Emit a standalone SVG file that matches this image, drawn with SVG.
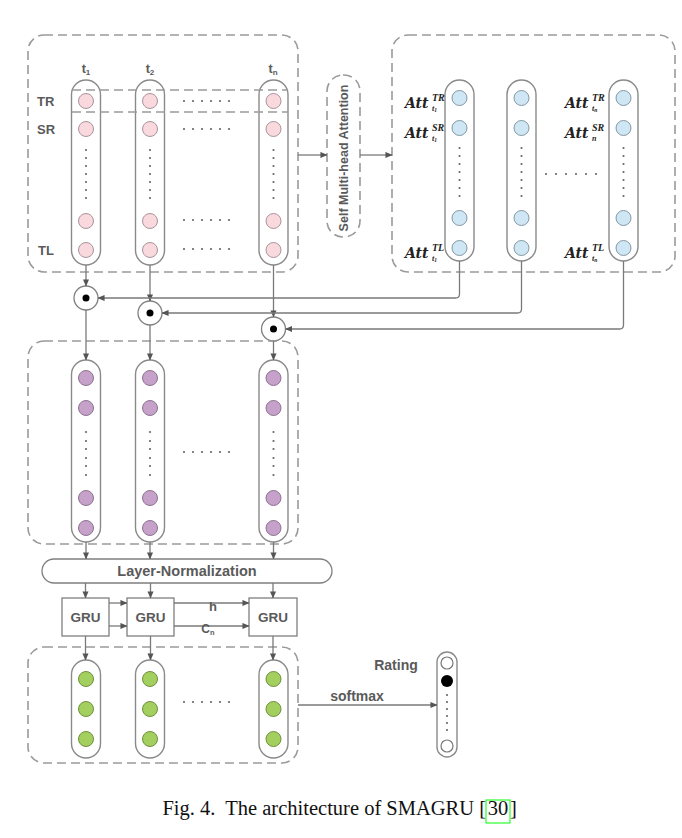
<svg xmlns="http://www.w3.org/2000/svg" width="682" height="838" viewBox="0 0 682 838">
<defs>
<marker id="ah" viewBox="0 0 8 8" refX="7.5" refY="4" markerWidth="7" markerHeight="7" orient="auto" markerUnits="userSpaceOnUse"><path d="M0,0.5 L8,4 L0,7.5 z" fill="#555"/></marker>
</defs>
<style>
.panel{fill:none;stroke:#9a9a9a;stroke-width:1.6;stroke-dasharray:9 5}
.pill{fill:#fff;stroke:#8a8a8a;stroke-width:1.4}
.pk{fill:#f9d8de;stroke:#a8959a;stroke-width:1}
.bl{fill:#cfe7f5;stroke:#8397a3;stroke-width:1}
.pu{fill:#c6a1c9;stroke:#8f7192;stroke-width:1}
.gr{fill:#a3cf5e;stroke:#6f8f3e;stroke-width:1}
.dot{fill:#666}
.lbl{font-family:"Liberation Sans",Arial,sans-serif;font-weight:bold;fill:#5a5a5a}
.att{font-family:"DejaVu Serif",serif;font-weight:bold;font-style:italic;fill:#222}
.sup{font-family:"Liberation Serif","Times New Roman",serif;font-weight:bold;font-style:italic;fill:#222}
.con{fill:none;stroke:#7a7a7a;stroke-width:1.3}
.arr{marker-end:url(#ah)}
.mul{fill:#fff;stroke:#808080;stroke-width:1.3}
.box{fill:#fff;stroke:#7f7f7f;stroke-width:1.3}
.cap{font-family:"Liberation Serif","Times New Roman",serif;font-size:20.5px;fill:#111}
</style>
<rect width="682" height="838" fill="#fff"/>

<g id="input-panel">
<rect class="panel" x="28" y="35" width="270" height="237" rx="16"/>
<text class="lbl" x="86" y="73" font-size="12.5" text-anchor="middle">t<tspan font-size="8" dy="2">1</tspan></text>
<text class="lbl" x="150" y="73" font-size="12.5" text-anchor="middle">t<tspan font-size="8" dy="2">2</tspan></text>
<text class="lbl" x="273" y="73" font-size="12.5" text-anchor="middle">t<tspan font-size="8" dy="2">n</tspan></text>
<text class="lbl" x="37" y="106" font-size="13">TR</text>
<text class="lbl" x="37" y="134" font-size="13">SR</text>
<text class="lbl" x="38" y="255" font-size="13">TL</text>
<g id="in-col1">
<rect class="pill" x="71.5" y="80" width="29" height="185" rx="14.5"/>
<circle class="pk" cx="86" cy="101" r="7.5"/><circle class="pk" cx="86" cy="129" r="7.5"/>
<circle class="pk" cx="86" cy="221" r="7.5"/><circle class="pk" cx="86" cy="250" r="7.5"/>
<g class="dot"><circle cx="86" cy="150" r="1.1"/><circle cx="86" cy="158" r="1.1"/><circle cx="86" cy="166" r="1.1"/><circle cx="86" cy="174" r="1.1"/><circle cx="86" cy="182" r="1.1"/><circle cx="86" cy="190" r="1.1"/><circle cx="86" cy="198" r="1.1"/></g>
</g>
<g id="in-col2">
<rect class="pill" x="135.5" y="80" width="29" height="185" rx="14.5"/>
<circle class="pk" cx="150" cy="101" r="7.5"/><circle class="pk" cx="150" cy="129" r="7.5"/>
<circle class="pk" cx="150" cy="221" r="7.5"/><circle class="pk" cx="150" cy="250" r="7.5"/>
<g class="dot"><circle cx="150" cy="150" r="1.1"/><circle cx="150" cy="158" r="1.1"/><circle cx="150" cy="166" r="1.1"/><circle cx="150" cy="174" r="1.1"/><circle cx="150" cy="182" r="1.1"/><circle cx="150" cy="190" r="1.1"/><circle cx="150" cy="198" r="1.1"/></g>
</g>
<g id="in-coln">
<rect class="pill" x="259" y="80" width="29" height="185" rx="14.5"/>
<circle class="pk" cx="273.5" cy="101" r="7.5"/><circle class="pk" cx="273.5" cy="129" r="7.5"/>
<circle class="pk" cx="273.5" cy="221" r="7.5"/><circle class="pk" cx="273.5" cy="250" r="7.5"/>
<g class="dot"><circle cx="273.5" cy="150" r="1.1"/><circle cx="273.5" cy="158" r="1.1"/><circle cx="273.5" cy="166" r="1.1"/><circle cx="273.5" cy="174" r="1.1"/><circle cx="273.5" cy="182" r="1.1"/><circle cx="273.5" cy="190" r="1.1"/><circle cx="273.5" cy="198" r="1.1"/></g>
</g>
<line class="panel" x1="72" y1="90" x2="288" y2="90"/>
<line class="panel" x1="72" y1="112" x2="288" y2="112"/>
<g class="dot">
<circle cx="184" cy="101" r="1.1"/><circle cx="193" cy="101" r="1.1"/><circle cx="202" cy="101" r="1.1"/><circle cx="211" cy="101" r="1.1"/><circle cx="220" cy="101" r="1.1"/><circle cx="229" cy="101" r="1.1"/>
<circle cx="184" cy="129" r="1.1"/><circle cx="193" cy="129" r="1.1"/><circle cx="202" cy="129" r="1.1"/><circle cx="211" cy="129" r="1.1"/><circle cx="220" cy="129" r="1.1"/><circle cx="229" cy="129" r="1.1"/>
<circle cx="184" cy="220" r="1.1"/><circle cx="193" cy="220" r="1.1"/><circle cx="202" cy="220" r="1.1"/><circle cx="211" cy="220" r="1.1"/><circle cx="220" cy="220" r="1.1"/><circle cx="229" cy="220" r="1.1"/>
<circle cx="184" cy="249" r="1.1"/><circle cx="193" cy="249" r="1.1"/><circle cx="202" cy="249" r="1.1"/><circle cx="211" cy="249" r="1.1"/><circle cx="220" cy="249" r="1.1"/><circle cx="229" cy="249" r="1.1"/>
</g>
</g>

<g id="attention">
<rect class="panel" x="327" y="75" width="33" height="162" rx="16"/>
<text class="lbl" font-size="12.5" text-anchor="middle" transform="translate(348,158) rotate(-90)">Self Multi-head Attention</text>
</g>

<g id="att-panel">
<rect class="panel" x="392" y="35" width="283" height="237" rx="16"/>
<g id="att-col1">
<rect class="pill" x="445" y="80" width="29" height="181" rx="14.5"/>
<circle class="bl" cx="459.5" cy="98" r="7.5"/><circle class="bl" cx="459.5" cy="128" r="7.5"/>
<circle class="bl" cx="459.5" cy="218" r="7.5"/><circle class="bl" cx="459.5" cy="248" r="7.5"/>
<g class="dot"><circle cx="459.5" cy="148" r="1.1"/><circle cx="459.5" cy="156" r="1.1"/><circle cx="459.5" cy="164" r="1.1"/><circle cx="459.5" cy="172" r="1.1"/><circle cx="459.5" cy="180" r="1.1"/><circle cx="459.5" cy="188" r="1.1"/><circle cx="459.5" cy="196" r="1.1"/></g>
</g>
<g id="att-col2">
<rect class="pill" x="507" y="80" width="29" height="181" rx="14.5"/>
<circle class="bl" cx="521.5" cy="98" r="7.5"/><circle class="bl" cx="521.5" cy="128" r="7.5"/>
<circle class="bl" cx="521.5" cy="218" r="7.5"/><circle class="bl" cx="521.5" cy="248" r="7.5"/>
<g class="dot"><circle cx="521.5" cy="148" r="1.1"/><circle cx="521.5" cy="156" r="1.1"/><circle cx="521.5" cy="164" r="1.1"/><circle cx="521.5" cy="172" r="1.1"/><circle cx="521.5" cy="180" r="1.1"/><circle cx="521.5" cy="188" r="1.1"/><circle cx="521.5" cy="196" r="1.1"/></g>
</g>
<g id="att-coln">
<rect class="pill" x="609" y="80" width="29" height="181" rx="14.5"/>
<circle class="bl" cx="623.5" cy="98" r="7.5"/><circle class="bl" cx="623.5" cy="128" r="7.5"/>
<circle class="bl" cx="623.5" cy="218" r="7.5"/><circle class="bl" cx="623.5" cy="248" r="7.5"/>
<g class="dot"><circle cx="623.5" cy="148" r="1.1"/><circle cx="623.5" cy="156" r="1.1"/><circle cx="623.5" cy="164" r="1.1"/><circle cx="623.5" cy="172" r="1.1"/><circle cx="623.5" cy="180" r="1.1"/><circle cx="623.5" cy="188" r="1.1"/><circle cx="623.5" cy="196" r="1.1"/></g>
</g>
<g class="dot"><circle cx="546" cy="174" r="1.1"/><circle cx="556" cy="174" r="1.1"/><circle cx="566" cy="174" r="1.1"/><circle cx="576" cy="174" r="1.1"/><circle cx="586" cy="174" r="1.1"/><circle cx="596" cy="174" r="1.1"/></g>
<g id="att-labels">
<text class="att" x="405" y="108" font-size="14">Att</text><text class="sup" x="432" y="101" font-size="10">TR</text><text class="sup" x="432" y="111" font-size="8">t<tspan font-size="5.5" dy="1">1</tspan></text>
<text class="att" x="405" y="138" font-size="14">Att</text><text class="sup" x="432" y="131" font-size="10">SR</text><text class="sup" x="432" y="141" font-size="8">t<tspan font-size="5.5" dy="1">1</tspan></text>
<text class="att" x="405" y="258" font-size="14">Att</text><text class="sup" x="432" y="251" font-size="10">TL</text><text class="sup" x="432" y="261" font-size="8">t<tspan font-size="5.5" dy="1">1</tspan></text>
<text class="att" x="565" y="108" font-size="14">Att</text><text class="sup" x="592" y="101" font-size="10">TR</text><text class="sup" x="592" y="111" font-size="8">t<tspan font-size="5.5" dy="1">n</tspan></text>
<text class="att" x="565" y="138" font-size="14">Att</text><text class="sup" x="592" y="131" font-size="10">SR</text><text class="sup" x="592" y="141" font-size="8">n</text>
<text class="att" x="565" y="258" font-size="14">Att</text><text class="sup" x="592" y="251" font-size="10">TL</text><text class="sup" x="592" y="261" font-size="8">t<tspan font-size="5.5" dy="1">n</tspan></text>
</g>
</g>

<g id="mul1"><circle class="mul" cx="86" cy="298" r="12"/><circle cx="86" cy="298" r="3.5" fill="#000"/></g>
<g id="mul2"><circle class="mul" cx="150" cy="313" r="12"/><circle cx="150" cy="313" r="3.5" fill="#000"/></g>
<g id="mul3"><circle class="mul" cx="273.5" cy="329" r="12"/><circle cx="273.5" cy="329" r="3.5" fill="#000"/></g>

<g id="hidden-panel">
<rect class="panel" x="28" y="341" width="270" height="203" rx="16"/>
<g id="h-col1">
<rect class="pill" x="71.5" y="360" width="29" height="182" rx="14.5"/>
<circle class="pu" cx="86" cy="378" r="7.5"/><circle class="pu" cx="86" cy="408" r="7.5"/>
<circle class="pu" cx="86" cy="498" r="7.5"/><circle class="pu" cx="86" cy="528" r="7.5"/>
<g class="dot"><circle cx="86" cy="432" r="1.1"/><circle cx="86" cy="441" r="1.1"/><circle cx="86" cy="449" r="1.1"/><circle cx="86" cy="458" r="1.1"/><circle cx="86" cy="466" r="1.1"/><circle cx="86" cy="475" r="1.1"/></g>
</g>
<g id="h-col2">
<rect class="pill" x="135.5" y="360" width="29" height="182" rx="14.5"/>
<circle class="pu" cx="150" cy="378" r="7.5"/><circle class="pu" cx="150" cy="408" r="7.5"/>
<circle class="pu" cx="150" cy="498" r="7.5"/><circle class="pu" cx="150" cy="528" r="7.5"/>
<g class="dot"><circle cx="150" cy="432" r="1.1"/><circle cx="150" cy="441" r="1.1"/><circle cx="150" cy="449" r="1.1"/><circle cx="150" cy="458" r="1.1"/><circle cx="150" cy="466" r="1.1"/><circle cx="150" cy="475" r="1.1"/></g>
</g>
<g id="h-coln">
<rect class="pill" x="259" y="360" width="29" height="182" rx="14.5"/>
<circle class="pu" cx="273.5" cy="378" r="7.5"/><circle class="pu" cx="273.5" cy="408" r="7.5"/>
<circle class="pu" cx="273.5" cy="498" r="7.5"/><circle class="pu" cx="273.5" cy="528" r="7.5"/>
<g class="dot"><circle cx="273.5" cy="432" r="1.1"/><circle cx="273.5" cy="441" r="1.1"/><circle cx="273.5" cy="449" r="1.1"/><circle cx="273.5" cy="458" r="1.1"/><circle cx="273.5" cy="466" r="1.1"/><circle cx="273.5" cy="475" r="1.1"/></g>
</g>
<g class="dot"><circle cx="184" cy="452" r="1.1"/><circle cx="193" cy="452" r="1.1"/><circle cx="202" cy="452" r="1.1"/><circle cx="211" cy="452" r="1.1"/><circle cx="220" cy="452" r="1.1"/><circle cx="229" cy="452" r="1.1"/></g>
</g>

<g id="layer-norm">
<rect class="box" x="42" y="559" width="290" height="24" rx="12"/>
<text class="lbl" x="187" y="576" font-size="14.5" text-anchor="middle">Layer-Normalization</text>
</g>

<g id="gru1"><rect class="box" x="62" y="598" width="47" height="38"/><text class="lbl" x="85.5" y="622" font-size="13.5" text-anchor="middle">GRU</text></g>
<g id="gru2"><rect class="box" x="127" y="598" width="47" height="38"/><text class="lbl" x="150.5" y="622" font-size="13.5" text-anchor="middle">GRU</text></g>
<g id="gru3"><rect class="box" x="249" y="598" width="48" height="38"/><text class="lbl" x="273" y="622" font-size="13.5" text-anchor="middle">GRU</text></g>

<g id="output-panel">
<rect class="panel" x="28" y="647" width="270" height="116" rx="16"/>
<g id="o-col1">
<rect class="pill" x="71.5" y="660" width="29" height="98" rx="14.5"/>
<circle class="gr" cx="86" cy="679" r="7.5"/><circle class="gr" cx="86" cy="709" r="7.5"/><circle class="gr" cx="86" cy="739" r="7.5"/>
</g>
<g id="o-col2">
<rect class="pill" x="135.5" y="660" width="29" height="98" rx="14.5"/>
<circle class="gr" cx="150" cy="679" r="7.5"/><circle class="gr" cx="150" cy="709" r="7.5"/><circle class="gr" cx="150" cy="739" r="7.5"/>
</g>
<g id="o-coln">
<rect class="pill" x="259" y="660" width="29" height="98" rx="14.5"/>
<circle class="gr" cx="273.5" cy="679" r="7.5"/><circle class="gr" cx="273.5" cy="709" r="7.5"/><circle class="gr" cx="273.5" cy="739" r="7.5"/>
</g>
<g class="dot"><circle cx="184" cy="702" r="1.1"/><circle cx="193" cy="702" r="1.1"/><circle cx="202" cy="702" r="1.1"/><circle cx="211" cy="702" r="1.1"/><circle cx="220" cy="702" r="1.1"/><circle cx="229" cy="702" r="1.1"/></g>
</g>

<g id="rating">
<rect class="pill" x="437" y="652" width="20" height="105" rx="10"/>
<circle cx="447" cy="663" r="6" fill="#fff" stroke="#777" stroke-width="1.2"/>
<circle cx="447" cy="681" r="6" fill="#000"/>
<g class="dot"><circle cx="447" cy="695" r="1.1"/><circle cx="447" cy="702" r="1.1"/><circle cx="447" cy="709" r="1.1"/><circle cx="447" cy="716" r="1.1"/><circle cx="447" cy="723" r="1.1"/><circle cx="447" cy="730" r="1.1"/></g>
<circle cx="447" cy="746" r="6" fill="#fff" stroke="#777" stroke-width="1.2"/>
<text class="lbl" x="396" y="670" font-size="14" text-anchor="middle">Rating</text>
</g>

<g id="connectors">
<line class="con arr" x1="298" y1="155" x2="327" y2="155"/>
<line class="con arr" x1="360" y1="155" x2="392" y2="155"/>
<line class="con arr" x1="86" y1="265" x2="86" y2="286"/>
<line class="con arr" x1="150" y1="265" x2="150" y2="301"/>
<line class="con arr" x1="273.5" y1="265" x2="273.5" y2="317"/>
<path class="con arr" d="M459.5,261 V294 Q459.5,298 455.5,298 H98"/>
<path class="con arr" d="M521.5,261 V309 Q521.5,313 517.5,313 H162"/>
<path class="con arr" d="M623.5,261 V325 Q623.5,329 619.5,329 H285.5"/>
<line class="con arr" x1="86" y1="310" x2="86" y2="360"/>
<line class="con arr" x1="150" y1="325" x2="150" y2="360"/>
<line class="con arr" x1="273.5" y1="341" x2="273.5" y2="360"/>
<line class="con arr" x1="86" y1="542" x2="86" y2="559"/>
<line class="con arr" x1="150" y1="542" x2="150" y2="559"/>
<line class="con arr" x1="273.5" y1="542" x2="273.5" y2="559"/>
<line class="con arr" x1="85.5" y1="583" x2="85.5" y2="598"/>
<line class="con arr" x1="150.5" y1="583" x2="150.5" y2="598"/>
<line class="con arr" x1="273" y1="583" x2="273" y2="598"/>
<line class="con arr" x1="109" y1="603" x2="127" y2="603"/>
<line class="con arr" x1="109" y1="626" x2="127" y2="626"/>
<line class="con arr" x1="174" y1="603" x2="249" y2="603"/>
<line class="con arr" x1="174" y1="626" x2="249" y2="626"/>
<text class="lbl" x="213" y="611" font-size="13" text-anchor="middle">h</text>
<text class="lbl" x="208" y="633" font-size="12" text-anchor="middle">C<tspan font-size="7.5" dy="2">n</tspan></text>
<line class="con arr" x1="85.5" y1="636" x2="85.5" y2="660"/>
<line class="con arr" x1="150.5" y1="636" x2="150.5" y2="660"/>
<line class="con arr" x1="273" y1="636" x2="273" y2="660"/>
<line class="con arr" x1="298" y1="705" x2="437" y2="705"/>
<text class="lbl" x="357" y="701" font-size="14" text-anchor="middle">softmax</text>
</g>

<g id="caption">
<text class="cap" x="486" y="815" text-anchor="end" xml:space="preserve">Fig. 4.  The architecture of SMAGRU [</text>
<text class="cap" x="498" y="815" text-anchor="middle">30</text>
<text class="cap" x="510" y="815">]</text>
<rect x="486" y="800" width="24" height="23" fill="none" stroke="#00ff00" stroke-width="1"/>
</g>
</svg>
